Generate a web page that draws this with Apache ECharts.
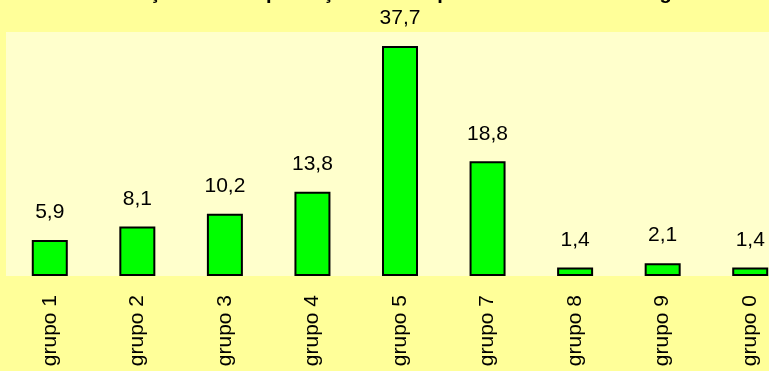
<!DOCTYPE html>
<html>
<head>
<meta charset="utf-8">
<script src="https://cdn.jsdelivr.net/npm/echarts@6/dist/echarts.min.js"></script>
<style>
  html, body { margin: 0; padding: 0; background: #FFFF99; }
  #chart { width: 769px; height: 371px; }
</style>
</head>
<body>
<div id="chart"></div>
<script>
// Categories and percentages per group
const categories = ['grupo 1', 'grupo 2', 'grupo 3', 'grupo 4', 'grupo 5', 'grupo 7', 'grupo 8', 'grupo 9', 'grupo 0'];
const values = [5.9, 8.1, 10.2, 13.8, 37.7, 18.8, 1.4, 2.1, 1.4];
const titleText = 'Distribuição total da produção mensal por classe e área de origem';

const FONT = 'Liberation Sans, Arial, sans-serif';
const chart = echarts.init(document.getElementById('chart'), null, { renderer: 'canvas' });

chart.setOption({
  animation: false,
  backgroundColor: '#FFFF99',
  title: {
    text: titleText,
    left: 'center',
    top: -17,
    padding: 0,
    textStyle: {
      fontFamily: FONT,
      fontSize: 20,
      fontWeight: 'bold',
      color: '#000',
      lineHeight: 20
    }
  },
  grid: {
    left: 6,
    top: 32,
    width: 788,
    bottom: 95,
    show: true,
    backgroundColor: '#FFFFCC',
    borderWidth: 0,
    containLabel: false,
    outerBoundsMode: 'none'
  },
  xAxis: {
    type: 'category',
    data: categories,
    axisLine: { show: false },
    axisTick: { show: false },
    splitLine: { show: false },
    axisLabel: {
      rotate: 90,
      margin: 19,
      interval: 0,
      padding: [9, 0, 0, 0],
      fontFamily: FONT,
      fontSize: 21,
      color: '#000'
    }
  },
  yAxis: {
    type: 'value',
    min: 0,
    max: 40,
    show: false,
    splitLine: { show: false }
  },
  series: [{
    type: 'bar',
    data: values,
    barWidth: 36,
    itemStyle: {
      color: '#00FF00',
      borderColor: '#000',
      borderWidth: 2
    },
    label: {
      show: true,
      position: 'top',
      distance: 17,
      fontFamily: FONT,
      fontSize: 21,
      color: '#000',
      formatter: p => String(p.value).replace('.', ',')
    }
  }]
});
</script>
</body>
</html>
